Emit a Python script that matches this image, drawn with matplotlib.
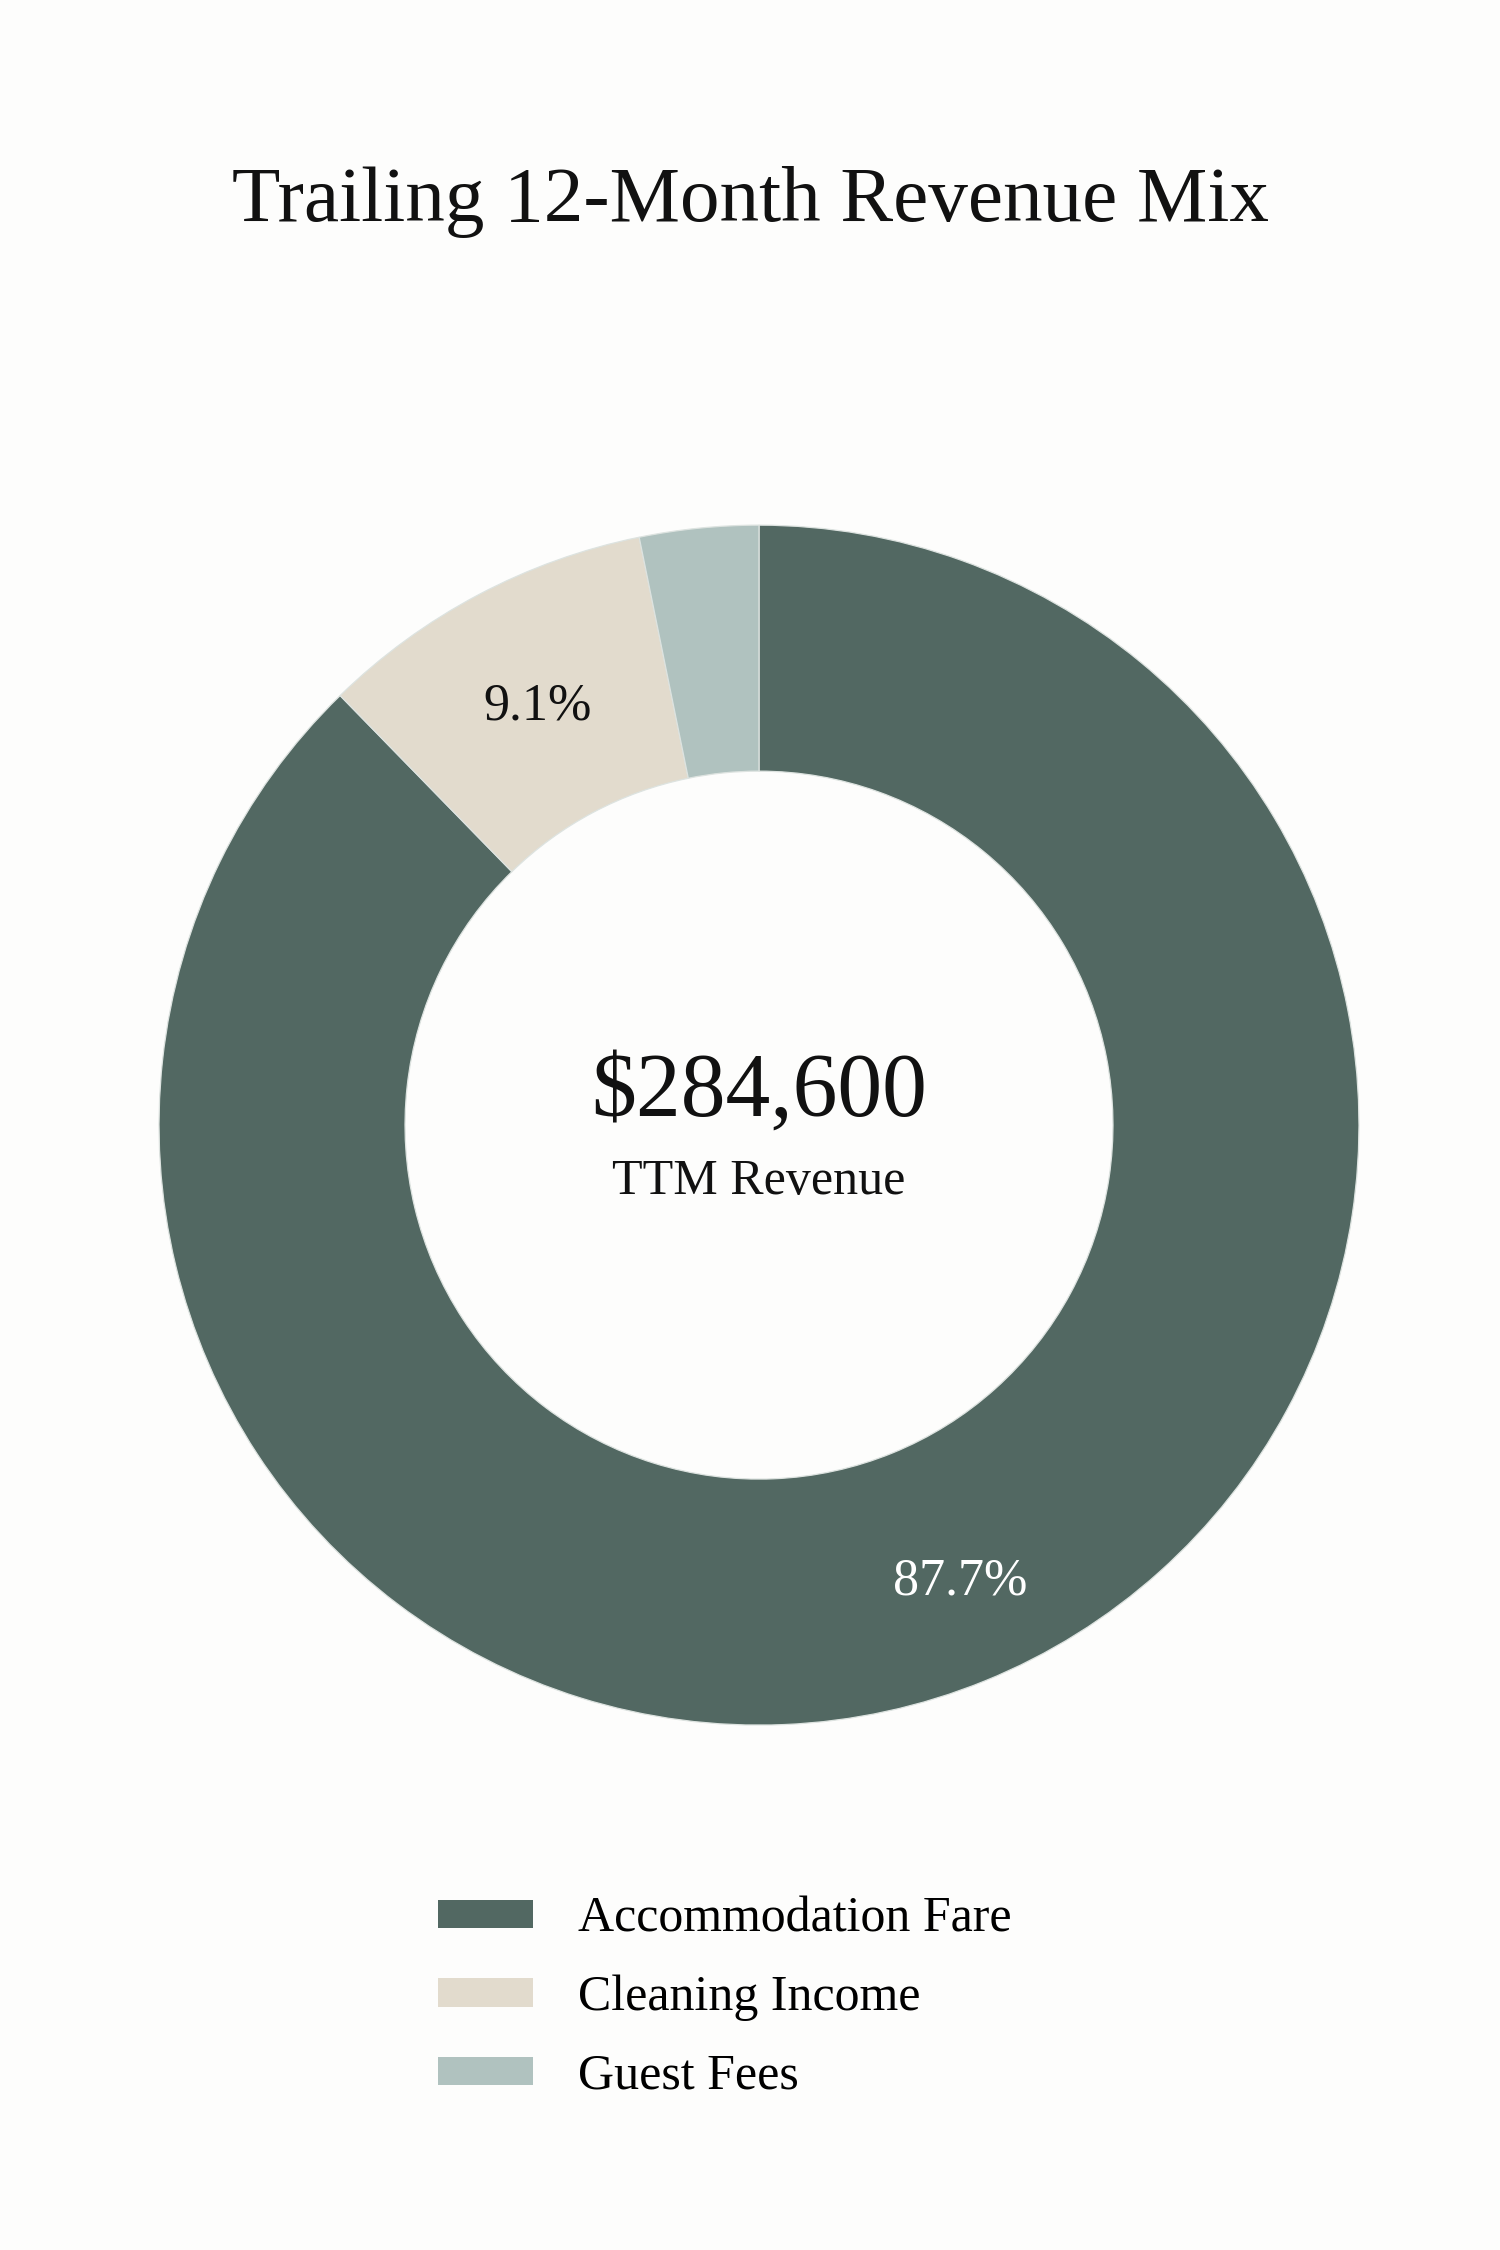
import matplotlib.pyplot as plt
from matplotlib.patches import Patch
import numpy as np

# data
categories = ["Accommodation Fare", "Cleaning Income", "Guest Fees"]
shares = [87.7, 9.1, 3.2]
colors = ["#526862", "#E2DBCD", "#B0C2BF"]
total_revenue = "$284,600"

plt.rcParams['font.family'] = ['Liberation Serif', 'DejaVu Serif']

fig = plt.figure(figsize=(10, 15), dpi=150, facecolor="#FDFDFC")
ax = fig.add_axes([0.106, 0.2333, 0.8, 0.5333])
ax.set_facecolor("none")

wedges, _ = ax.pie(shares, colors=colors, startangle=90, counterclock=False,
                   radius=1.0,
                   wedgeprops=dict(width=0.41, edgecolor="#DDE3E0", linewidth=0.6))
ax.set_xlim(-1, 1)
ax.set_ylim(-1, 1)
ax.set_aspect("equal")

# percentage labels on the larger slices
for w, s in zip(wedges, shares):
    if s < 5:
        continue
    ang = np.deg2rad((w.theta1 + w.theta2) / 2)
    r = 0.79 if s < 50 else 0.81
    col = "white" if w.get_facecolor()[0] < 0.5 else "#111111"
    ax.text(r * np.cos(ang) + (0.03 if s > 50 else 0), r * np.sin(ang) - (0.01 if s > 50 else 0),
            f"{s:.1f}%", ha="center", va="center", fontsize=25, color=col)

ax.text(0, 0.053, total_revenue, ha="center", va="center", fontsize=43, color="#111111")
ax.text(0, -0.094, "TTM Revenue", ha="center", va="center", fontsize=24, color="#111111")

fig.text(0.5, 0.910, "Trailing 12-Month Revenue Mix", ha="center", va="center",
         fontsize=38, color="#111111")

handles = [Patch(facecolor=c, edgecolor="none") for c in colors]
fig.legend(handles, categories, loc="center", bbox_to_anchor=(0.483, 0.112),
           frameon=False, fontsize=24, handlelength=1.9, handleheight=0.5,
           handletextpad=0.9, labelspacing=0.64)

fig.savefig("out.png", dpi=150, facecolor=fig.get_facecolor())
